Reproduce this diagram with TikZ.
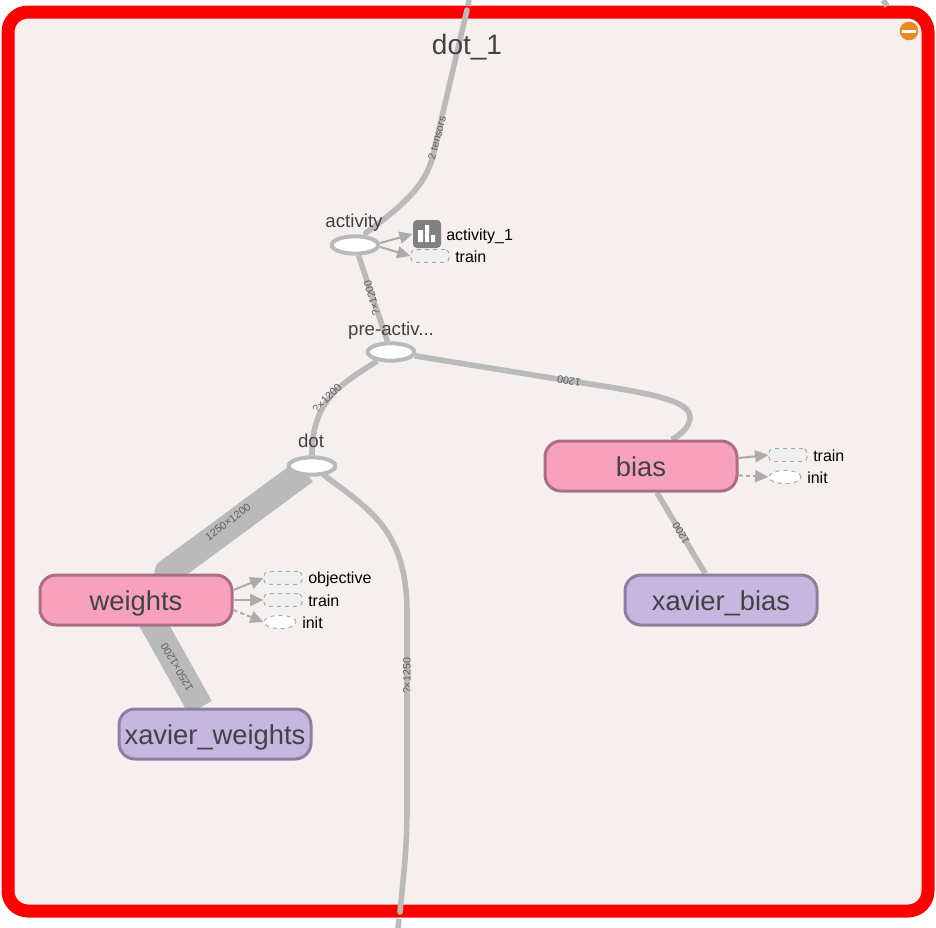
\documentclass[tikz,border=0pt]{standalone}
\usepackage{fontspec}
\setmainfont{Liberation Sans}
\usetikzlibrary{arrows.meta,backgrounds,shapes.geometric}
\definecolor{panelfill}{HTML}{F5F0EE}
\definecolor{framered}{HTML}{FF0000}
\definecolor{edgegray}{HTML}{BABABA}
\definecolor{arrowgray}{HTML}{ABABAB}
\definecolor{inkgray}{HTML}{424242}
\definecolor{pinkfill}{HTML}{F7A1BD}
\definecolor{pinkline}{HTML}{AC6D85}
\definecolor{lilacfill}{HTML}{C5B7E0}
\definecolor{lilacline}{HTML}{8D7FA2}
\definecolor{badgeorange}{HTML}{E88A26}

\begin{document}
\begin{tikzpicture}[
    x=0.75pt, y=-0.75pt,
    base/.style = {rectangle, rounded corners=12pt, line width=2.25pt,
minimum width=144pt, minimum height=37.5pt, inner sep=0pt,
text height=17pt, text depth=2pt,
text centered, text=inkgray, font=\fontsize{20.5}{24}\selectfont},
metanode/.style = {base, draw=pinkline, fill=pinkfill},
initnode/.style = {base, draw=lilacline, fill=lilacfill},
opnode/.style = {ellipse, draw=edgegray, fill=white, line width=3pt,
minimum width=35pt, minimum height=13pt, inner sep=0pt},
oplabel/.style = {text=inkgray, inner sep=0pt, anchor=base, font=\fontsize{14}{16}\selectfont},
auxbox/.style = {rectangle, rounded corners=3pt, draw=arrowgray, dashed,
line width=0.8pt, fill=black!6, minimum width=28.5pt, minimum height=9.5pt, inner sep=0pt},
auxinit/.style = {ellipse, draw=arrowgray, dashed, line width=0.8pt, fill=white,
minimum width=24pt, minimum height=10pt, inner sep=0pt},
auxlabel/.style = {text=black, inner sep=0pt, anchor=base west, font=\fontsize{12}{14}\selectfont},
flow/.style = {draw=edgegray, line width=4.2pt},
fatflow/.style = {draw=edgegray, line width=20pt, line join=round},
flowlabel/.style = {text=inkgray!85, inner sep=0pt, font=\fontsize{8}{9}\selectfont},
aux/.style = {draw=arrowgray, line width=1.5pt, -{Triangle[length=10pt,width=9pt]}},
auxdash/.style = {aux, dash pattern=on 3pt off 2.5pt}
]
  \useasboundingbox (0,0) rectangle (936,928);

  % main graph
  \node (activity) [opnode] at (355,245) {};
  \node (preact)   [opnode] at (391,352) {};
  \node (dot)      [opnode] at (312,466) {};
  \node (bias)     [metanode] at (641,466) {bias};
  \node (weights)  [metanode] at (136,600) {weights};
  \node (xavierb)  [initnode] at (721,600) {xavier\_bias};
  \node (xavierw)  [initnode] at (215,734) {xavier\_weights};

  \node (title) [text=inkgray, inner sep=0pt, anchor=base, font=\fontsize{21}{26}\selectfont] at (467,54) {dot\_1};
  \node (activitytxt) [oplabel] at (354,227) {activity};
  \node (preacttxt)   [oplabel] at (391,335) {pre-activ...};
  \node (dottxt)      [oplabel] at (311,447) {dot};

  % free ends of the edges
  \coordinate (topin) at (467,10);
  \coordinate (botin) at (400,912);
  \coordinate (topstub) at (469,0);
  \coordinate (topstubb) at (468,6);
  \coordinate (botstub) at (398,928);
  \coordinate (botstubb) at (399,919);
  \coordinate (cornerstub) at (883,0);
  \coordinate (cornerstubb) at (887,6);

  % side nodes
  \node (summary) [rectangle, rounded corners=3pt, fill=black!50, minimum size=21pt, inner sep=0pt] at (427,234) {};
  \fill[white] (418,230) rectangle (423,242) (425,225) rectangle (429,242) (431,235) rectangle (435,242);
  \node (trainact) [auxbox] at (430,256) {};
  \node (objw)   [auxbox] at (283,578) {};
  \node (trainw) [auxbox] at (283,600) {};
  \node (initw)  [auxinit] at (280,622) {};
  \node (trainb) [auxbox] at (788,455) {};
  \node (initb)  [auxinit] at (785,477) {};

  \node (summarytxt) [auxlabel] at (446,240) {activity\_1};
  \node (trainacttxt) [auxlabel] at (455,262) {train};
  \node (objwtxt)   [auxlabel] at (308,583) {objective};
  \node (trainwtxt) [auxlabel] at (308,606) {train};
  \node (initwtxt)  [auxlabel] at (302,628) {init};
  \node (trainbtxt) [auxlabel] at (813,461) {train};
  \node (initbtxt)  [auxlabel] at (807,483) {init};

  \node (collapse) [circle, fill=badgeorange, minimum size=14pt, inner sep=0pt] at (909,31) {};
  \fill[white] (902,29.5) rectangle (916,33);

  \begin{scope}[on background layer]
    \draw[draw=framered, fill=panelfill, line width=9.75pt, rounded corners=15pt]
      (8,12) rectangle (928,911);
    \draw[flow] (topstub) -- (topstubb);
    \draw[flow] (botstub) -- (botstubb);
    \draw[flow] (cornerstub) -- (cornerstubb);

    \draw[flow, line cap=round] (topin) -- (436,142)
      .. controls (430,172) and (425,190) .. ([xshift=8pt,yshift=1pt]activity.north);
    \draw[flow] (activity) -- (preact);
    \draw[flow] (preact) .. controls (340,385) and (312,400) .. (dot);
    \draw[flow] (preact) -- (570,381)
      .. controls (650,393) and (691,400) .. (690,418)
      .. controls (689,428) and (680,435) .. ([xshift=23pt]bias.north);
    \draw[flow, line cap=round] (dot) .. controls (370,510) and (406,530) .. (407,610)
      -- (407,810) .. controls (407,850) and (403,880) .. (botin);
    \draw[fatflow] ([shift={(-7,5)}]dot.center) -- (168,572) -- (165,600);
    \draw[fatflow] ([xshift=3pt]weights.center) -- (xavierw);
    \draw[flow] (bias) -- (xavierb);
  \end{scope}

  \node (lbltensors) [flowlabel, rotate=75] at (437,138) {2 tensors};
  \node (lblactpre)  [flowlabel, rotate=105] at (372,298) {?×1200};
  \node (lbldot)     [flowlabel, rotate=45] at (327,398) {?×1200};
  \node (lblbias)    [flowlabel, rotate=170] at (569,381) {1200};
  \node (lblfat)     [flowlabel, rotate=37] at (228,522) {1250×1200};
  \node (lblxw)      [flowlabel, rotate=120] at (177,667) {1250×1200};
  \node (lblxb)      [flowlabel, rotate=120] at (681,533) {1200};
  \node (lbldown)    [flowlabel, rotate=90] at (407,676) {?×1250};

  \draw[aux] ([yshift=1.5pt]activity.east) -- (summary.west);
  \draw[aux] ([yshift=-1.5pt]activity.east) -- (trainact.west);
  \draw[aux] ([yshift=7.5pt]weights.east) -- (objw.west);
  \draw[aux] (weights.east) -- (trainw.west);
  \draw[auxdash] ([yshift=-7.5pt]weights.east) -- (initw.west);
  \draw[aux] ([yshift=6pt]bias.east) -- (trainb.west);
  \draw[auxdash] ([yshift=-7pt]bias.east) -- (initb.west);

\end{tikzpicture}
\end{document}
